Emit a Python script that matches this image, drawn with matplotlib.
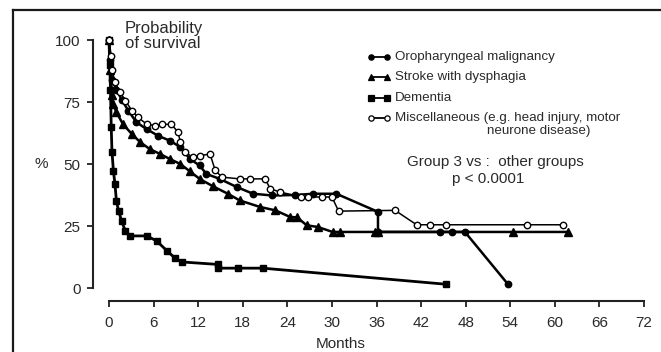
import matplotlib
matplotlib.use("Agg")
import matplotlib.pyplot as plt
from matplotlib.lines import Line2D

plt.rcParams['font.family'] = ['Liberation Sans', 'DejaVu Sans']

# ---- data (months, % surviving) ----
oro_m = [0, 0.1, 0.4, 1.0, 1.7, 2.6, 3.7, 5.1, 6.6, 8.2, 9.6, 10.9, 12.2, 13.1, 14.9,
         17.2, 19.4, 22.0, 25.0, 27.5, 30.6, 36.2, 36.2, 44.5, 46.1, 47.9, 53.7]
oro_p = [100, 92, 84, 80, 76, 71.5, 66.8, 64, 61.4, 59.4, 56.8, 52, 49.4, 46, 44,
         40.7, 38, 37.3, 37.5, 38, 38, 30.7, 22.6, 22.6, 22.6, 22.6, 1.5]

stroke_m = [0, 0.2, 0.4, 0.6, 1.0, 1.9, 3.1, 4.2, 5.5, 6.9, 8.2, 9.6, 10.9, 12.2, 14.0,
            16.0, 17.6, 20.3, 22.4, 24.4, 25.3, 26.6, 28.1, 30.1, 31.1, 35.8, 36.2, 54.4, 61.8]
stroke_p = [100, 88, 78, 74, 70.8, 66, 62, 58.8, 56, 54, 52, 50, 47, 44, 41,
            38, 35.3, 32.7, 31.3, 28.6, 28.5, 25.3, 24.6, 22.6, 22.6, 22.6, 22.6, 22.6, 22.6]

dem_m = [0, 0.1, 0.2, 0.3, 0.4, 0.6, 0.8, 1.0, 1.3, 1.7, 2.2, 2.8, 5.1, 6.4, 7.8, 8.9,
         9.8, 14.7, 14.7, 17.4, 20.7, 45.4]
dem_p = [100, 90, 80, 65, 55, 47, 42, 35, 31, 27, 23, 21, 21, 19, 15, 12,
         10.5, 9.5, 8, 8, 8, 1.5]

misc_m = [0, 0.3, 0.4, 0.8, 1.5, 2.2, 3.1, 3.9, 5.1, 6.2, 7.1, 8.4, 9.3, 9.6, 10.2, 11.3,
          12.2, 13.6, 14.3, 15.2, 17.6, 19.0, 21.0, 21.7, 23.0, 25.9, 26.8, 28.6, 30.0, 30.9,
          38.5, 41.4, 43.2, 45.4, 56.3, 61.1]
misc_p = [100, 93.6, 88, 83, 79, 75.5, 71.5, 68.8, 66, 65.5, 66, 66, 62.8, 58.8, 54.8, 52.7,
          53.4, 54, 47.4, 44.7, 44, 44, 44, 40, 38.7, 36.7, 36.7, 36.7, 36.7, 31,
          31.3, 25.5, 25.5, 25.5, 25.5, 25.5]

labels = ["Oropharyngeal malignancy", "Stroke with dysphagia", "Dementia",
          "Miscellaneous (e.g. head injury, motor"]
xticks = [0, 6, 12, 18, 24, 30, 36, 42, 48, 54, 60, 66, 72]
yticks = [0, 25, 50, 75, 100]

W, H = 661, 352
fig = plt.figure(figsize=(W / 100, H / 100), dpi=100)
TXT = '#2a2a2a'

def fx(px):
    return px / W

def fy(py):
    return 1 - py / H

ax = fig.add_axes([fx(109), fy(288), (644 - 109) / W, (288 - 40) / H])
ax.set_xlim(0, 72)
ax.set_ylim(0, 100)
for s in ('top', 'right'):
    ax.spines[s].set_visible(False)
ax.spines['left'].set_position(('outward', 11.5))
ax.spines['bottom'].set_position(('outward', 9.5))
ax.spines['left'].set_bounds(0, 100)
ax.spines['bottom'].set_bounds(0, 72)
for s in ('left', 'bottom'):
    ax.spines[s].set_linewidth(1.5)
    ax.spines[s].set_color('#222222')
ax.set_xticks(xticks)
ax.set_yticks(yticks)
ax.tick_params(axis='both', direction='out', length=4, width=1.3, colors='#222222',
               labelcolor=TXT, labelsize=11)
ax.tick_params(axis='y', pad=5)
ax.tick_params(axis='x', pad=7)
ax.patch.set_alpha(0)

lw = 1.8
ms = 4.6
ax.plot(oro_m, oro_p, color='black', lw=lw, marker='o', ms=ms, mfc='black', mec='black',
        clip_on=False)
ax.plot(stroke_m, stroke_p, color='black', lw=lw, marker='^', ms=ms + 0.6, mfc='black',
        mec='black', clip_on=False)
ax.plot(dem_m, dem_p, color='black', lw=lw + 0.2, marker='s', ms=ms, mfc='black', mec='black',
        clip_on=False)
ax.plot(misc_m, misc_p, color='black', lw=1.1, marker='o', ms=ms, mfc='white', mec='black',
        mew=1.0, clip_on=False)

# texts
fig.text(fx(125), fy(21), "Probability\nof survival", fontsize=12, color=TXT,
         ha='left', va='top', linespacing=1.02)
fig.text(fx(41), fy(164), "%", fontsize=11, color=TXT, ha='center', va='center')
fig.text(fx(341), fy(344), "Months", fontsize=11, color=TXT, ha='center', va='center')

# legend (manual)
leg_rows = [56.7, 77, 98.3, 118.3]
styles = [dict(marker='o', mfc='black', ms=3.8),
          dict(marker='^', mfc='black', ms=4.6),
          dict(marker='s', mfc='black', ms=3.8),
          dict(marker='o', mfc='white', ms=3.8)]
for yy, lab, st in zip(leg_rows, labels, styles):
    fig.add_artist(Line2D([fx(371), fx(387)], [fy(yy), fy(yy)], transform=fig.transFigure,
                          color='black', lw=1.3, marker=st['marker'], ms=st['ms'],
                          mfc=st['mfc'], mec='black', mew=0.9))
    fig.text(fx(395), fy(yy), lab, fontsize=9.6, color=TXT, ha='left', va='center')
fig.text(fx(487), fy(131), "neurone disease)", fontsize=9.6, color=TXT, ha='left', va='center')

fig.text(fx(495), fy(162), "Group 3 vs :  other groups", fontsize=11, color=TXT,
         ha='center', va='center')
fig.text(fx(488), fy(179), "p < 0.0001", fontsize=11, color=TXT, ha='center', va='center')

# scanned-frame border
fig.add_artist(Line2D([fx(13.5), 1.0], [fy(9.5), fy(9.5)], transform=fig.transFigure,
                      color='#1a1a1a', lw=1.6))
fig.add_artist(Line2D([fx(13.5), fx(13.5)], [fy(9.5), 0.0], transform=fig.transFigure,
                      color='#1a1a1a', lw=1.6))

fig.savefig("out.png", dpi=100)
